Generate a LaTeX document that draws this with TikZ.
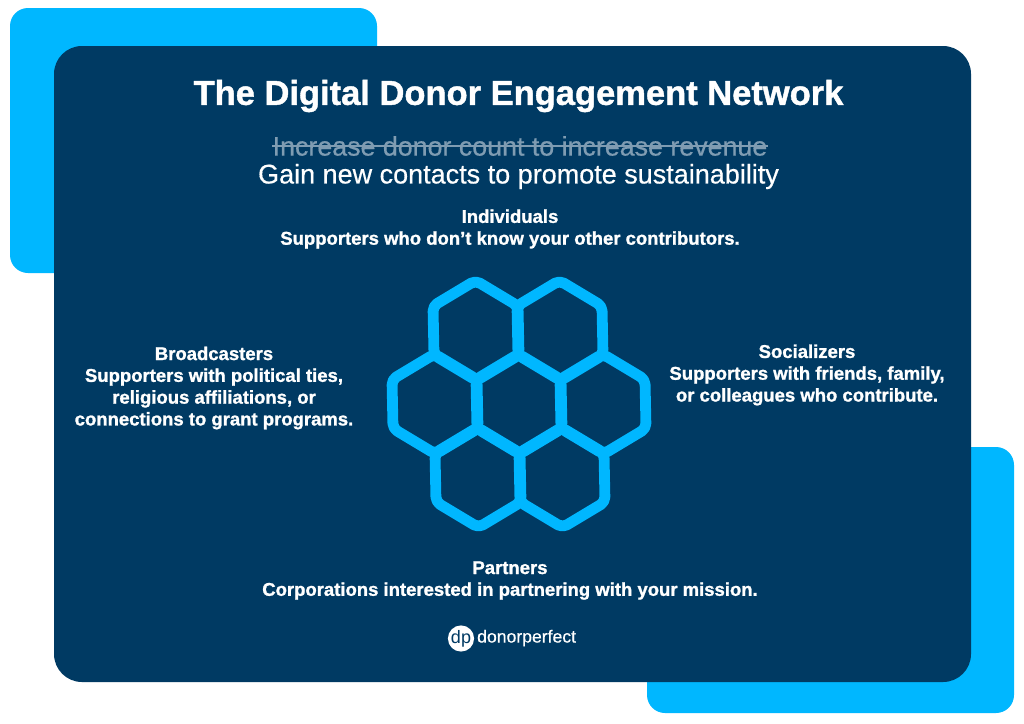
\documentclass[tikz,border=0pt]{standalone}
\usepackage{fontspec}
\setmainfont[BoldFeatures={FakeBold=1.2}]{Liberation Sans}
\newfontfamily\subfont[FakeBold=0.5]{Liberation Sans}
\definecolor{navy}{HTML}{003A63}
\definecolor{sky}{HTML}{00B7FF}
\definecolor{struck}{HTML}{7F9CB2}
\tikzset{
  panel/.style={fill=sky,rounded corners=18pt},
  mainpanel/.style={fill=navy,rounded corners=28pt},
  hexline/.style={draw=sky,line width=10.8pt,line join=round},
  txt/.style={text=white,align=center,inner sep=0pt,font=\bfseries\fontsize{18.5}{21.8}\selectfont},
}
\newcommand{\hexa}[2]{%
  \draw[hexline,rounded corners=5pt] (#1-0.5,#2-50) -- (#1+42,#2-24.5) -- (#1+43,#2+24.5) -- (#1+0.5,#2+50) -- (#1-42,#2+24.5) -- (#1-43,#2-24.5) -- cycle;}
\begin{document}
\begin{tikzpicture}[x=1pt,y=-1pt]
\useasboundingbox (0,0) rectangle (1024,723);
\fill[white] (0,0) rectangle (1024,723);
\path[panel] (10,8) rectangle (377,273);
\path[panel] (647,447) rectangle (1014,713);
\path[mainpanel] (54,46) rectangle (971,682);
\hexa{476}{330.5}
\hexa{560}{330.5}
\hexa{435}{404}
\hexa{519}{404}
\hexa{603}{404}
\hexa{478}{477.5}
\hexa{562}{477.5}
\node[txt,font=\bfseries\fontsize{34.5}{38}\selectfont] (title) at (518.5,96) {The Digital Donor Engagement Network};
\node[txt,text=struck,font=\subfont\fontsize{26.8}{30}\selectfont] (old) at (520,146) {Increase donor count to increase revenue};
\draw[struck,line width=1.5pt] (old.west) -- (old.east);
\node[txt,font=\subfont\fontsize{27}{30}\selectfont] (new) at (518.5,176.5) {Gain new contacts to promote sustainability};
\node[txt] (ind) at (510,229) {Individuals\\Supporters who don’t know your other contributors.};
\node[txt] (bro) at (214,388) {Broadcasters\\Supporters with political ties,\\religious affiliations, or\\connections to grant programs.};
\node[txt] (soc) at (807,375) {Socializers\\Supporters with friends, family,\\or colleagues who contribute.};
\node[txt] (par) at (510,580.5) {Partners\\Corporations interested in partnering with your mission.};
\node[circle,fill=white,minimum size=23pt,inner sep=0pt,text=navy,font=\fontsize{18}{18}\selectfont] (dp) at (461,638.5) {dp};
\node[txt,anchor=west,font=\subfont\fontsize{17.6}{20}\selectfont] (brand) at (477,638) {donorperfect};
\end{tikzpicture}
\end{document}
